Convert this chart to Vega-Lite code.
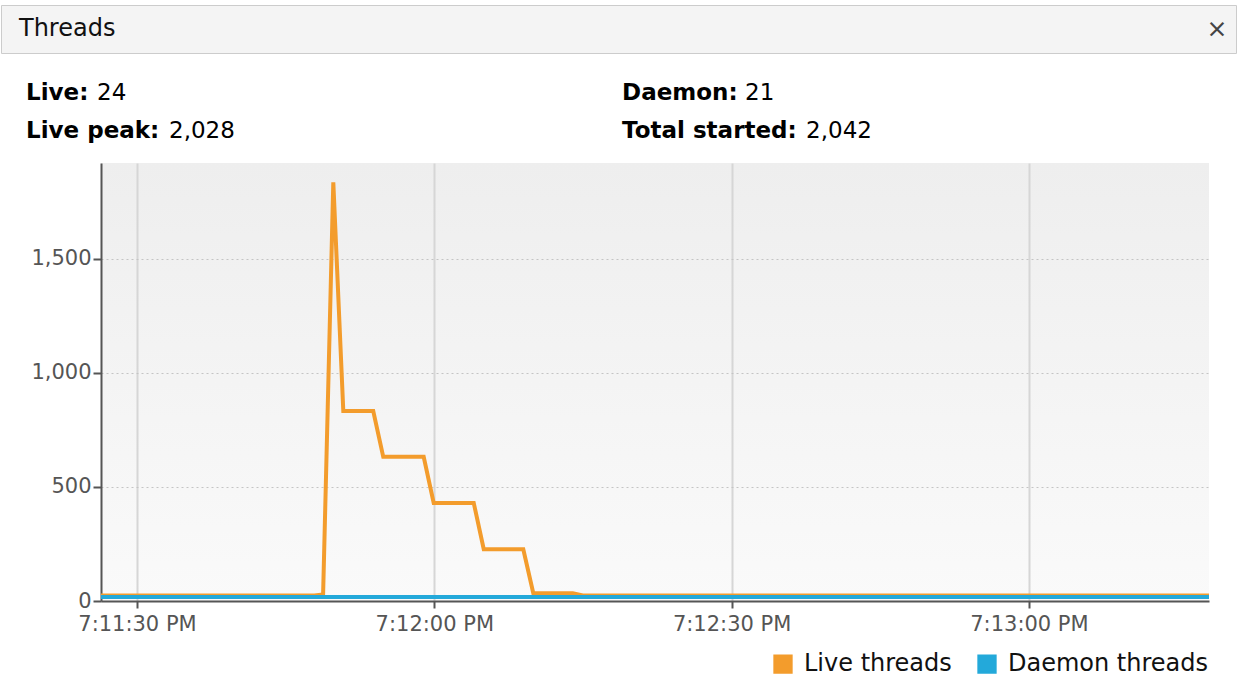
{
  "$schema": "https://vega.github.io/schema/vega-lite/v6.json",
  "background": "white",
  "padding": {"top": 4, "left": 0, "right": 0, "bottom": 0},
  "spacing": 0,
  "resolve": {"scale": {"fill": "independent", "stroke": "independent"}, "legend": {"fill": "independent", "stroke": "independent"}},
  "config": {
    "font": "DejaVu Sans",
    "view": {"stroke": null},
    "legend": {
      "layout": {
        "offset": 18,
        "direction": "horizontal",
        "left": {"direction": "vertical"},
        "right": {"direction": "vertical"},
        "bottom": {"anchor": "end", "direction": "horizontal", "offset": 18, "margin": 4, "center": false, "bounds": "full"}
      }
    }
  },
  "vconcat": [
    {
      "width": 1235,
      "height": 48,
      "view": {"fill": "#f4f4f4", "stroke": "#cccccc"},
      "data": {"values": [{"tab": "Threads"}, {"tab": "×"}]},
      "layer": [
        {
          "transform": [{"filter": "datum.tab == 'Threads'"}],
          "mark": {"type": "text", "align": "left", "baseline": "middle", "dx": 18, "fontSize": 24, "color": "#111111"},
          "encoding": {
            "x": {"field": "tab", "type": "nominal", "scale": {"type": "point", "domain": ["Threads", "×"], "padding": 0}, "axis": null},
            "text": {"field": "tab"}
          }
        },
        {
          "transform": [{"filter": "datum.tab != 'Threads'"}],
          "mark": {"type": "text", "align": "center", "baseline": "middle", "dx": -19, "fontSize": 25, "color": "#444444"},
          "encoding": {
            "x": {"field": "tab", "type": "nominal", "scale": {"type": "point", "domain": ["Threads", "×"], "padding": 0}, "axis": null},
            "text": {"field": "tab"}
          }
        }
      ]
    },
    {
      "width": 1238,
      "height": 109,
      "data": {"values": [
        {"label": "Live:", "value": "24", "column": 0, "line": 1},
        {"label": "Live peak:", "value": "2,028", "column": 0, "line": 2},
        {"label": "Daemon:", "value": "21", "column": 1, "line": 1},
        {"label": "Total started:", "value": "2,042", "column": 1, "line": 2}
      ]},
      "encoding": {
        "x": {"field": "column", "type": "quantitative", "scale": {"domain": [-0.042, 2.035], "nice": false, "zero": false}, "axis": null},
        "y": {"field": "line", "type": "quantitative", "scale": {"domain": [-0.026, 2.842], "nice": false, "zero": false, "reverse": true}, "axis": null}
      },
      "layer": [
        {
          "mark": {"type": "text", "align": "left", "baseline": "middle", "fontSize": 23, "fontWeight": "bold", "color": "#000000"},
          "encoding": {"text": {"field": "label"}}
        },
        {
          "transform": [{"filter": "datum.label == 'Live:'"}],
          "mark": {"type": "text", "align": "left", "baseline": "middle", "dx": 71, "fontSize": 23, "color": "#000000"},
          "encoding": {"text": {"field": "value"}}
        },
        {
          "transform": [{"filter": "datum.label == 'Live peak:'"}],
          "mark": {"type": "text", "align": "left", "baseline": "middle", "dx": 143, "fontSize": 23, "color": "#000000"},
          "encoding": {"text": {"field": "value"}}
        },
        {
          "transform": [{"filter": "datum.label == 'Daemon:'"}],
          "mark": {"type": "text", "align": "left", "baseline": "middle", "dx": 123, "fontSize": 23, "color": "#000000"},
          "encoding": {"text": {"field": "value"}}
        },
        {
          "transform": [{"filter": "datum.label == 'Total started:'"}],
          "mark": {"type": "text", "align": "left", "baseline": "middle", "dx": 184, "fontSize": 23, "color": "#000000"},
          "encoding": {"text": {"field": "value"}}
        }
      ]
    },
    {
      "spacing": 0,
      "resolve": {"scale": {"fill": "independent", "stroke": "independent"}, "legend": {"fill": "independent", "stroke": "independent"}},
      "hconcat": [
        {
          "width": 10,
          "height": 438,
          "data": {"values": []},
          "mark": "point"
        },
        {
          "width": 1108,
          "height": 438,
          "view": {
            "stroke": null,
            "fill": {"gradient": "linear", "x1": 0, "y1": 0, "x2": 0, "y2": 1, "stops": [{"offset": 0, "color": "#eeeeee"}, {"offset": 1, "color": "#fafafa"}]}
          },
          "data": {"values": [
            {"time": "2024-03-01T19:11:26.000", "series": "Live threads", "threads": 24},
            {"time": "2024-03-01T19:11:47.900", "series": "Live threads", "threads": 24},
            {"time": "2024-03-01T19:11:48.780", "series": "Live threads", "threads": 28},
            {"time": "2024-03-01T19:11:49.810", "series": "Live threads", "threads": 1835},
            {"time": "2024-03-01T19:11:50.820", "series": "Live threads", "threads": 833},
            {"time": "2024-03-01T19:11:53.840", "series": "Live threads", "threads": 833},
            {"time": "2024-03-01T19:11:54.850", "series": "Live threads", "threads": 632},
            {"time": "2024-03-01T19:11:58.930", "series": "Live threads", "threads": 632},
            {"time": "2024-03-01T19:11:59.940", "series": "Live threads", "threads": 430},
            {"time": "2024-03-01T19:12:03.980", "series": "Live threads", "threads": 430},
            {"time": "2024-03-01T19:12:04.990", "series": "Live threads", "threads": 227},
            {"time": "2024-03-01T19:12:08.980", "series": "Live threads", "threads": 227},
            {"time": "2024-03-01T19:12:09.990", "series": "Live threads", "threads": 34},
            {"time": "2024-03-01T19:12:13.970", "series": "Live threads", "threads": 34},
            {"time": "2024-03-01T19:12:14.980", "series": "Live threads", "threads": 24},
            {"time": "2024-03-01T19:13:20.000", "series": "Live threads", "threads": 24},
            {"time": "2024-03-01T19:11:26.000", "series": "Daemon threads", "threads": 17},
            {"time": "2024-03-01T19:13:20.000", "series": "Daemon threads", "threads": 17}
          ]},
          "encoding": {
            "x": {
              "field": "time",
              "type": "temporal",
              "scale": {"domain": [
                {"year": 2024, "month": 3, "date": 1, "hours": 19, "minutes": 11, "seconds": 26, "milliseconds": 370},
                {"year": 2024, "month": 3, "date": 1, "hours": 19, "minutes": 13, "seconds": 18, "milliseconds": 170}
              ]},
              "axis": {
                "title": null,
                "format": "%-I:%M:%S %p",
                "values": [
                  {"year": 2024, "month": 3, "date": 1, "hours": 19, "minutes": 11, "seconds": 30},
                  {"year": 2024, "month": 3, "date": 1, "hours": 19, "minutes": 12, "seconds": 0},
                  {"year": 2024, "month": 3, "date": 1, "hours": 19, "minutes": 12, "seconds": 30},
                  {"year": 2024, "month": 3, "date": 1, "hours": 19, "minutes": 13, "seconds": 0}
                ],
                "labelFontSize": 21,
                "labelColor": "#555555",
                "labelPadding": 5,
                "labelFlush": false,
                "tickSize": 7,
                "tickColor": "#555555",
                "tickWidth": 2,
                "domainColor": "#555555",
                "domainWidth": 2,
                "grid": true,
                "gridColor": "#d6d6d6",
                "gridWidth": 2
              }
            },
            "y": {
              "field": "threads",
              "type": "quantitative",
              "scale": {"domain": [0, 1920], "nice": false},
              "axis": {
                "title": null,
                "values": [0, 500, 1000, 1500],
                "format": ",.0f",
                "labelFontSize": 21,
                "labelColor": "#555555",
                "labelPadding": 2,
                "tickSize": 8,
                "tickColor": "#555555",
                "tickWidth": 2,
                "domainColor": "#555555",
                "domainWidth": 2,
                "grid": true,
                "gridColor": "#c4c4c4",
                "gridDash": [2, 3],
                "gridWidth": 1,
                "minExtent": 90
              }
            }
          },
          "layer": [
            {
              "mark": {"type": "square", "filled": true, "opacity": 1, "size": 0, "clip": true},
              "encoding": {
                "fill": {
                  "field": "series",
                  "type": "nominal",
                  "scale": {"domain": ["Live threads", "Daemon threads"], "range": ["#f39c2c", "#23a9da"]},
                  "legend": {
                    "title": null,
                    "orient": "bottom",
                    "direction": "horizontal",
                    "symbolType": "square",
                    "symbolSize": 300,
                    "symbolStrokeColor": "#444444",
                    "symbolStrokeWidth": 2,
                    "symbolOpacity": 1,
                    "labelFontSize": 24,
                    "labelColor": "#111111",
                    "labelLimit": 400,
                    "labelOffset": 9,
                    "columnPadding": 22,
                    "encode": {
                      "symbols": {"update": {"stroke": {"value": "#444444"}, "strokeWidth": {"value": 2}}}
                    }
                  }
                }
              }
            },
            {
              "mark": {"type": "line", "strokeWidth": 4, "clip": true},
              "encoding": {
                "stroke": {
                  "field": "series",
                  "type": "nominal",
                  "scale": {"domain": ["Live threads", "Daemon threads"], "range": ["#f39c2c", "#23a9da"]},
                  "legend": null
                }
              }
            }
          ]
        }
      ]
    }
  ]
}
